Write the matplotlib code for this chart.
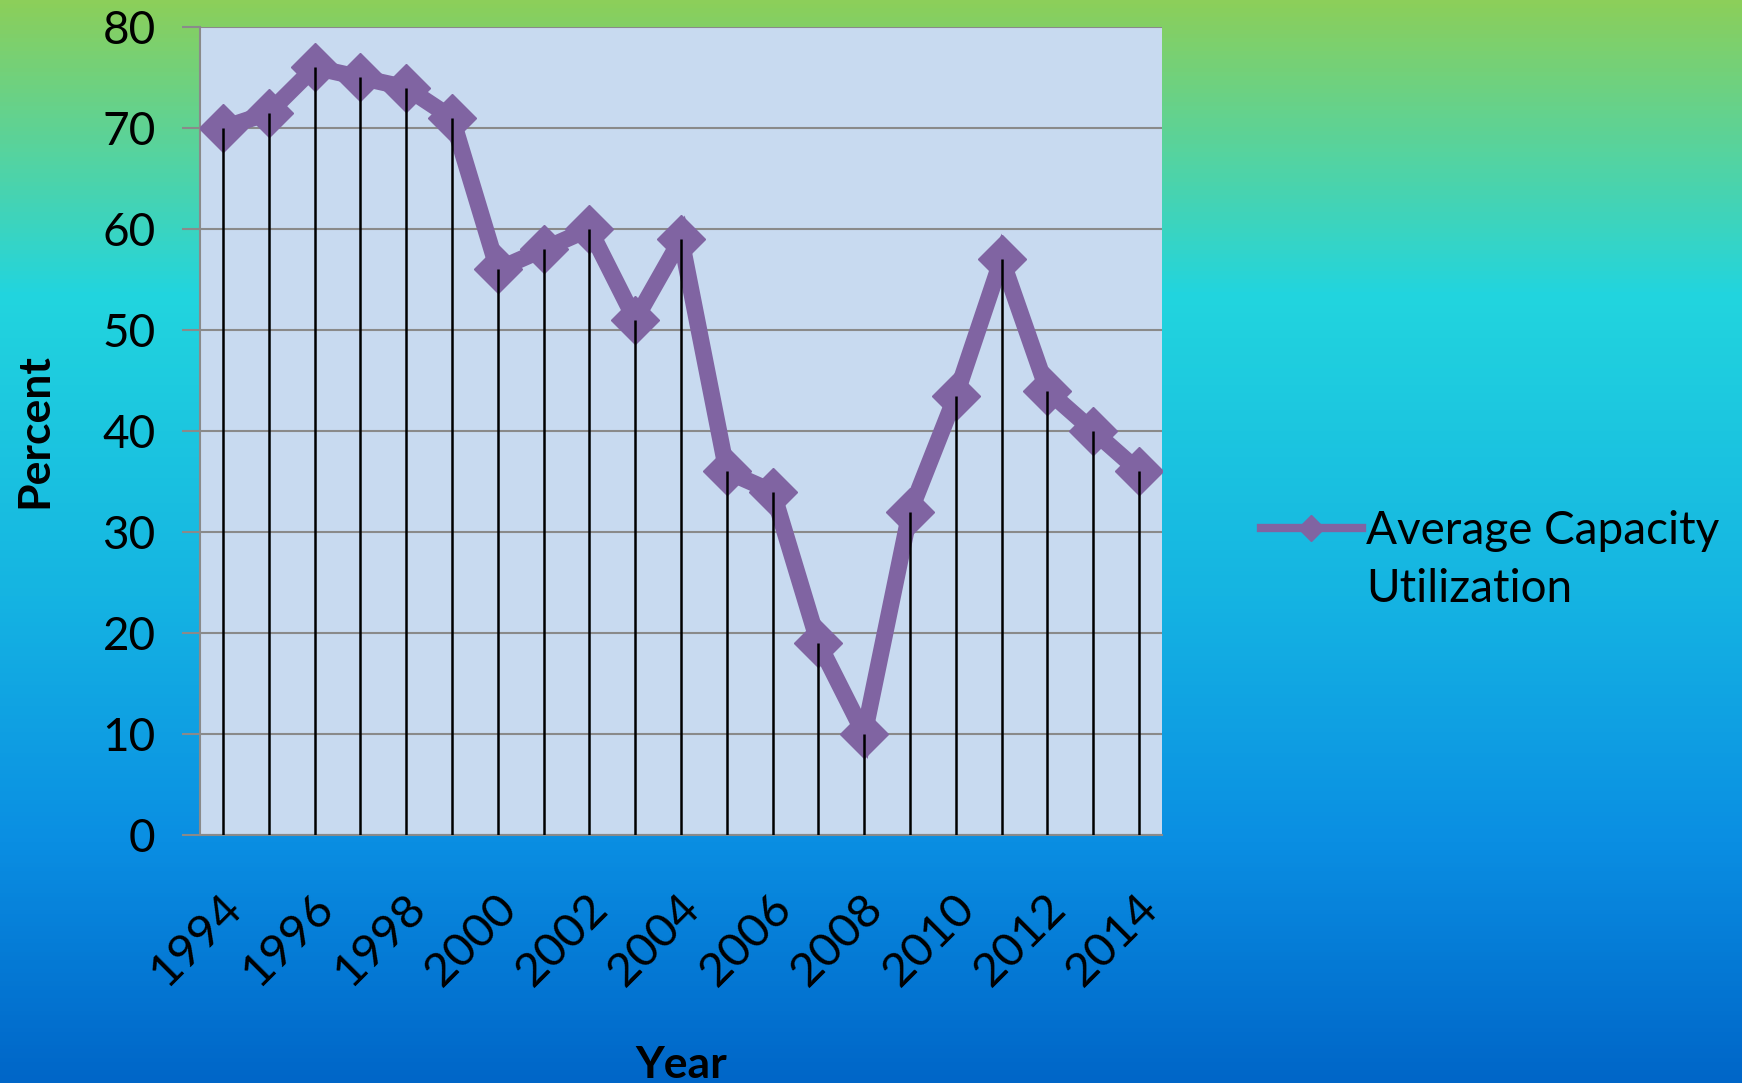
import numpy as np
import matplotlib
matplotlib.use('Agg')
import matplotlib.pyplot as plt
from matplotlib.colors import LinearSegmentedColormap
from matplotlib.lines import Line2D
import matplotlib.transforms as mtransforms

# Data
years = list(range(1994, 2015))
capacity = [70, 71.5, 76, 75, 74, 71, 56, 58, 60, 51, 59,
            36, 34, 19, 10, 32, 43.5, 57, 44, 40, 36]
tick_years = list(range(1994, 2015, 2))
legend_lines = ['Average Capacity', 'Utilization']

plt.rcParams['font.family'] = ['Lato', 'DejaVu Sans']

fig = plt.figure(figsize=(17.42, 10.83), dpi=100)

# Gradient background (green -> cyan -> blue)
bg = fig.add_axes([0, 0, 1, 1], zorder=-10)
grad_cmap = LinearSegmentedColormap.from_list(
    'bg', [(0.0, '#8ccf5a'), (0.13, '#5ad39a'), (0.27, '#22d5de'),
           (0.55, '#15b4e2'), (0.78, '#0a8ee2'), (1.0, '#0066c8')])
bg.imshow(np.linspace(0, 1, 256).reshape(-1, 1), aspect='auto', cmap=grad_cmap,
          extent=[0, 1, 1, 0])
bg.set_axis_off()

ax = fig.add_axes([200 / 1742, 1 - 835 / 1083, 962 / 1742, 808 / 1083])
ax.set_facecolor('#c8daf0')

line, = ax.plot(years, capacity, color='#8064a2', lw=12, marker='D', ms=24,
                solid_joinstyle='miter', zorder=3)
ax.vlines(years, 0, capacity, colors='black', lw=1.8, zorder=4)

ax.set_xlim(1993.5, 2014.5)
ax.set_ylim(0, 80)
ax.set_yticks(range(0, 81, 10))
ax.set_xticks(tick_years)
ax.yaxis.grid(True, color='#8a8a8a', lw=1.5)
ax.set_axisbelow(True)

for s in ['top', 'right']:
    ax.spines[s].set_visible(False)
for s in ['left', 'bottom']:
    ax.spines[s].set_color('#8a8a8a')
    ax.spines[s].set_linewidth(1.5)

ax.tick_params(axis='y', length=13, width=1.5, color='#8a8a8a', pad=19,
               labelsize=33)
ax.tick_params(axis='x', length=0, pad=48, labelsize=34)
offset = mtransforms.ScaledTranslation(0.12, 0, fig.dpi_scale_trans)
for lbl in ax.get_xticklabels():
    lbl.set_rotation(45)
    lbl.set_ha('right')
    lbl.set_va('center')
    lbl.set_rotation_mode('anchor')
    lbl.set_transform(lbl.get_transform() + offset)

ax.set_ylabel('Percent', fontsize=32, fontweight='bold', va='center')
ax.yaxis.set_label_coords(-0.172, 0.5)
ax.set_xlabel('Year', fontsize=32, fontweight='bold', va='center')
ax.xaxis.set_label_coords(0.5, -0.285)

# legend: handle sits beside the first text line, label wraps to a second line
blank = Line2D([], [], color='none')
leg = ax.legend([line, blank], legend_lines, loc='center left',
                bbox_to_anchor=(1.06, 0.34), frameon=False,
                fontsize=33, handlelength=2.2, handletextpad=0.1,
                labelspacing=0.35, markerscale=0.55)
leg.get_lines()[0].set_linewidth(6)

fig.savefig('out.png', dpi=100)
